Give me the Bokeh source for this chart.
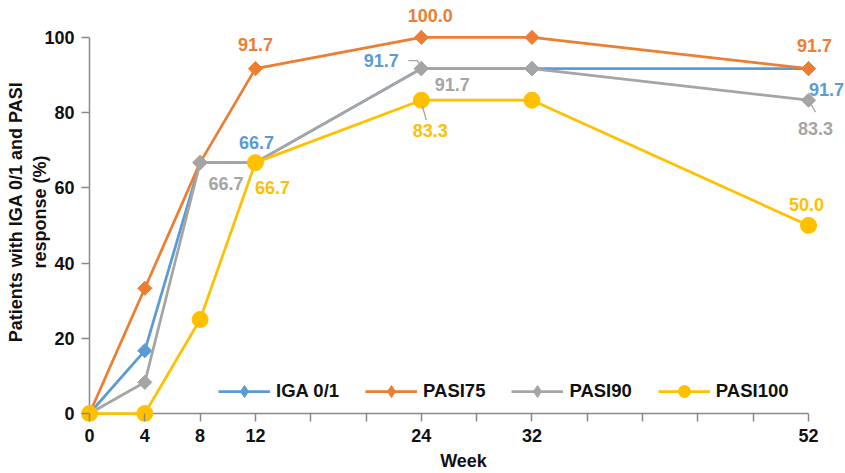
import math
from bokeh.plotting import figure
from bokeh.models import ColumnDataSource, FixedTicker, Legend, LegendItem
from bokeh.core.properties import value
from bokeh.embed import file_html
from bokeh.resources import INLINE

# ---------------- data ----------------
weeks = [0, 4, 8, 12, 24, 32, 52]
iga = [0, 16.7, 66.7, 66.7, 91.7, 91.7, 91.7]
pasi75 = [0, 33.3, 66.7, 91.7, 100.0, 100.0, 91.7]
pasi90 = [0, 8.3, 66.7, 66.7, 91.7, 91.7, 83.3]
pasi100 = [0, 0, 25.0, 66.7, 83.3, 83.3, 50.0]
series_names = ["IGA 0/1", "PASI75", "PASI90", "PASI100"]
x_tick_values = list(range(0, 53, 4))
x_tick_labels = ["0", "4", "8", "12", "24", "32", "52"]
y_tick_values = [0, 20, 40, 60, 80, 100]
x_title = "Week"
y_title = "Patients with IGA 0/1 and PASI\nresponse (%)"

# ---------------- styles ----------------
FONT = "Liberation Sans"
AXIS_GRAY = "#898989"
colors = {"IGA 0/1": "#5B9BD5", "PASI75": "#ED7D31", "PASI90": "#A5A5A5", "PASI100": "#FFC000"}
values = {"IGA 0/1": iga, "PASI75": pasi75, "PASI90": pasi90, "PASI100": pasi100}
markers = {"IGA 0/1": "square", "PASI75": "square", "PASI90": "square", "PASI100": "circle"}
legend_markers = {"IGA 0/1": "diamond", "PASI75": "diamond", "PASI90": "diamond", "PASI100": "circle"}
msize = {"IGA 0/1": 10, "PASI75": 10, "PASI90": 10, "PASI100": 16}
mangle = {"IGA 0/1": math.pi / 4, "PASI75": math.pi / 4, "PASI90": math.pi / 4, "PASI100": 0}

X0, X1 = -0.578, 54.675
Y0, Y1 = -2.12, 109.28
p = figure(width=845, height=473, output_backend="svg", toolbar_location=None,
           x_range=(X0, X1), y_range=(Y0, Y1),
           min_border_left=81, min_border_right=0, min_border_top=2, min_border_bottom=51)
p.outline_line_color = None
p.xgrid.visible = False
p.ygrid.visible = False
p.background_fill_color = "white"
p.border_fill_color = "white"

for ax in (p.xaxis[0], p.yaxis[0]):
    ax.axis_line_color = None
    ax.major_tick_line_color = AXIS_GRAY
    ax.major_tick_line_width = 1.5
    ax.minor_tick_line_color = None
    ax.major_tick_in = 8
    ax.major_tick_out = 0
    ax.major_label_text_font = FONT
    ax.major_label_text_font_style = "bold"
    ax.major_label_text_font_size = "18px"
    ax.major_label_text_color = "#111111"
    ax.axis_label_text_font = FONT
    ax.axis_label_text_font_style = "bold"
    ax.axis_label_text_color = "#111111"

xa = p.xaxis[0]
xa.ticker = FixedTicker(ticks=x_tick_values)
xa.major_label_overrides = {t: (str(t) if str(t) in x_tick_labels else "") for t in x_tick_values}
xa.major_label_standoff = 7
xa.axis_label = x_title
xa.axis_label_text_font_size = "18px"
xa.axis_label_standoff = 6

ya = p.yaxis[0]
ya.ticker = FixedTicker(ticks=y_tick_values)
ya.major_label_standoff = 7
ya.axis_label = y_title
ya.axis_label_text_font_size = "18px"
ya.axis_label_standoff = -9

# axis lines at data zero
p.line([0, 0], [0, y_tick_values[-1]], line_color=AXIS_GRAY, line_width=1.5)
p.line([0, x_tick_values[-1]], [0, 0], line_color=AXIS_GRAY, line_width=1.5)

items = []
for name in series_names:
    src = ColumnDataSource(dict(x=weeks, y=values[name]))
    ln = p.line("x", "y", source=src, line_color=colors[name], line_width=2.75)
    sc = p.scatter("x", "y", source=src, marker=markers[name], size=msize[name],
                   angle=mangle[name], fill_color=colors[name], line_color=colors[name])
    lg = p.scatter("x", "y", source=src, marker=legend_markers[name], size=msize[name],
                   fill_color=colors[name], line_color=colors[name], visible=False)
    items.append(LegendItem(label=name, renderers=[ln, lg]))

legend = Legend(items=items, orientation="horizontal", location=(137, 15),
                glyph_width=52, glyph_height=30, label_standoff=6, spacing=26,
                padding=0, margin=0, border_line_alpha=0, background_fill_alpha=0,
                label_text_font=FONT, label_text_font_style="bold",
                label_text_font_size="18.5px", label_text_color="#111111")
p.add_layout(legend)

# ---------------- data labels (series, index, dx px, dy px) ----------------
label_spec = [
    ("PASI75", 3, 0, -24), ("PASI75", 4, 9, -22), ("PASI75", 6, 6, -23),
    ("IGA 0/1", 3, 1, -20), ("IGA 0/1", 4, -40, -8), ("IGA 0/1", 6, 18, 21),
    ("PASI90", 2, 26, 21), ("PASI90", 4, 31, 16), ("PASI90", 6, 7, 28),
    ("PASI100", 3, 17, 25), ("PASI100", 4, 9, 30), ("PASI100", 6, -2, -21),
]
lab = dict(x=[], y=[], t=[], dx=[], dy=[], c=[])
for name, i, dx, dy in label_spec:
    lab["x"].append(weeks[i])
    lab["y"].append(values[name][i])
    lab["t"].append(f"{values[name][i]:.1f}")
    lab["dx"].append(dx)
    lab["dy"].append(dy)
    lab["c"].append(colors[name])
p.text("x", "y", text="t", x_offset="dx", y_offset="dy", text_color="c",
       source=ColumnDataSource(lab), text_font=value(FONT), text_font_style="bold",
       text_font_size="18px", text_align="center", text_baseline="middle")

# leader lines (pixel offsets converted to data units)
PXW = 764 / (X1 - X0)
PXH = 420 / (Y1 - Y0)
leaders = [
    ("IGA 0/1", 4, [(-13, -8), (-4, -8), (0, -2)]),
    ("PASI100", 4, [(1, 6), (5, 20)]),
    ("PASI90", 6, [(2, 3), (7, 12)]),
]
for name, i, pts in leaders:
    xs = [weeks[i] + dx / PXW for dx, dy in pts]
    ys = [values[name][i] - dy / PXH for dx, dy in pts]
    p.line(xs, ys, line_color="#A5A5A5", line_width=1.3)

open("out.html", "w").write(file_html(p, INLINE))
